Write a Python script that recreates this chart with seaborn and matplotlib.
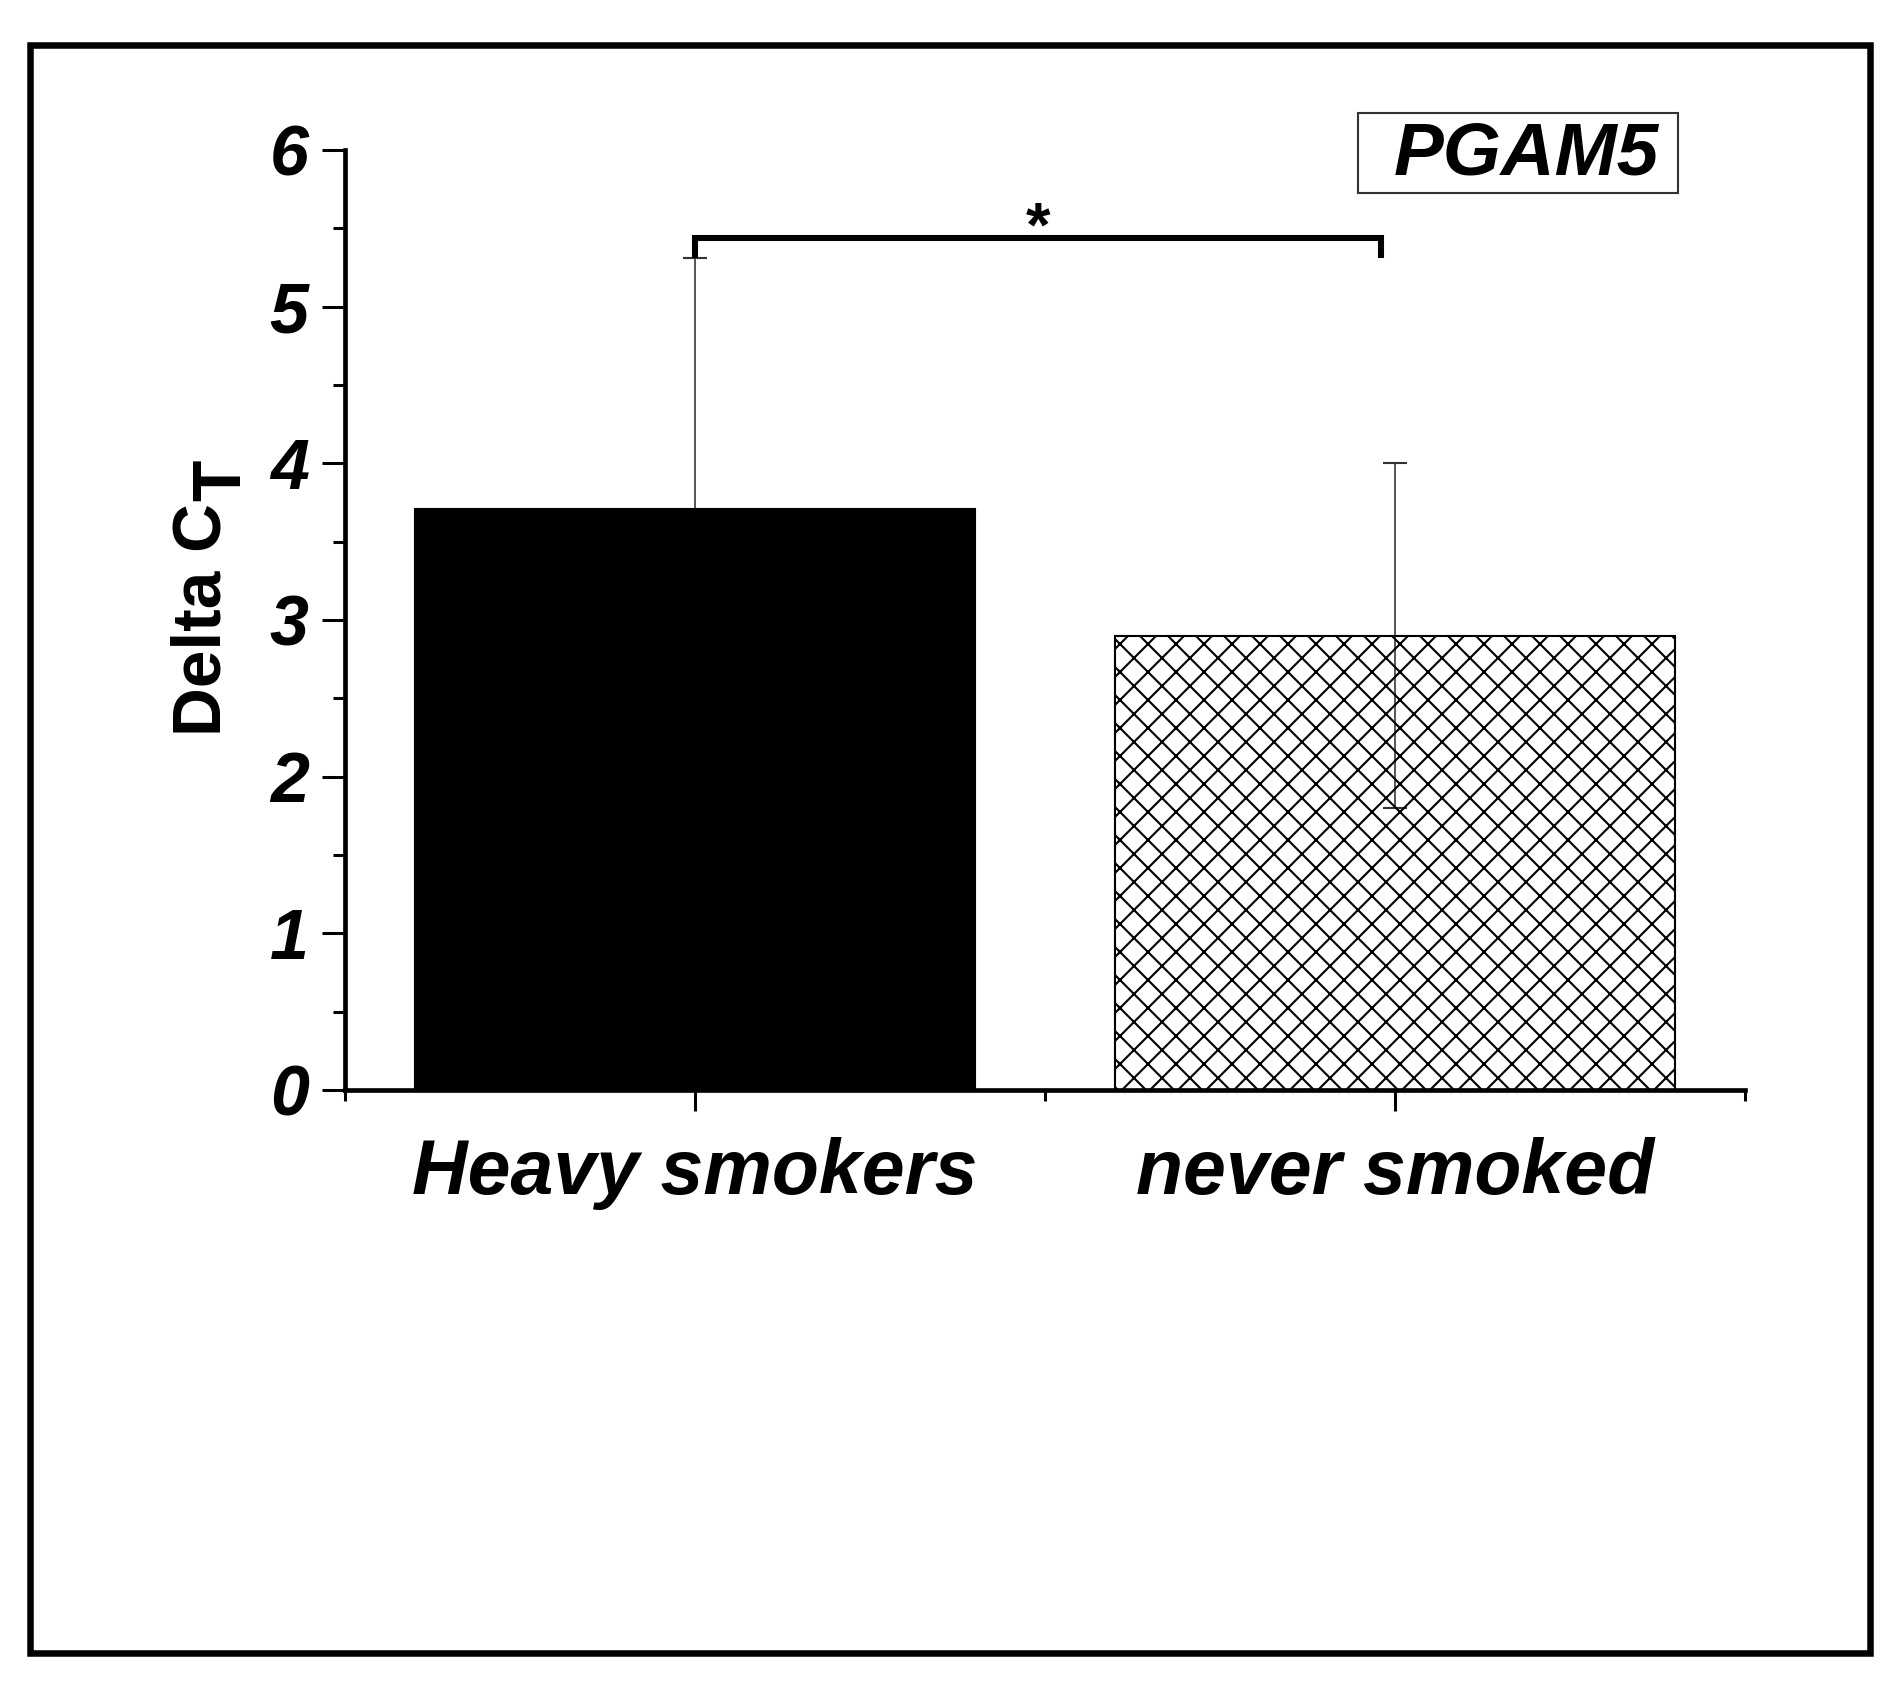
import numpy as np
import pandas as pd
import seaborn as sns
import matplotlib
matplotlib.use('Agg')
from matplotlib import pyplot as plt
from matplotlib.patches import Rectangle
from matplotlib.ticker import MultipleLocator, FixedLocator

# values
groups = ["Heavy smokers", "never smoked"]
delta_ct = [3.71, 2.90]
sem = [1.60, 1.10]
bar_colors = ["black", "white"]

df = pd.DataFrame({"group": groups, "delta_ct": delta_ct})

sns.set_theme(style="white")
plt.rcParams['font.family'] = ['Liberation Sans', 'DejaVu Sans']
plt.rcParams['hatch.linewidth'] = 0.9

DPI = 168
fig = plt.figure(figsize=(1887 / DPI, 1687 / DPI), dpi=DPI)
ax = fig.add_axes([0.1828, 0.3539, 0.7419, 0.5572])

sns.barplot(data=df, x="group", y="delta_ct", hue="group", palette=bar_colors,
            edgecolor="black", linewidth=0.9, width=0.8, legend=False, ax=ax, zorder=2)
# second bar: fine crosshatch
ax.patches[1].set_hatch('xx')
ax.patches[1].set_facecolor('none')

# error bars (lower half of the black bar is hidden behind it)
ax.errorbar(x=[0, 1], y=delta_ct, yerr=sem, fmt='none', ecolor='#333333',
            elinewidth=0.7, capsize=5, capthick=0.9, zorder=1)

# axes styling
sns.despine(ax=ax)
for side in ['left', 'bottom']:
    ax.spines[side].set_linewidth(2)
    ax.spines[side].set_color('black')

ax.set_ylim(0, 6)
ax.set_xlim(-0.5, 1.5)
ax.yaxis.set_major_locator(MultipleLocator(1))
ax.yaxis.set_minor_locator(MultipleLocator(0.5))
ax.xaxis.set_minor_locator(FixedLocator([-0.5, 0.5, 1.5]))

ax.tick_params(axis='y', which='major', direction='out', length=10, width=1.3,
               pad=5.6, labelsize=30, left=True, color='black', labelcolor='black')
ax.tick_params(axis='y', which='minor', direction='out', length=5, width=1.3,
               left=True, color='black')
ax.tick_params(axis='x', which='major', direction='out', length=9, width=1.3,
               pad=11, labelsize=33, bottom=True, color='black', labelcolor='black')
ax.tick_params(axis='x', which='minor', direction='out', length=4.5, width=1.3,
               bottom=True, color='black')

for lbl in ax.get_xticklabels() + ax.get_yticklabels():
    lbl.set_fontweight('bold')
    lbl.set_fontstyle('italic')

ax.set_xlabel('')
ax.set_ylabel('Delta C', fontsize=29, fontweight='bold', labelpad=15, color='black')
ax.annotate('T', xy=(1, 1), xycoords=ax.yaxis.label, xytext=(8.6, 1),
            textcoords='offset points', rotation=90, ha='right', va='bottom',
            fontsize=29, fontweight='bold', color='black')

# significance bracket
ax.plot([0, 0, 0.98, 0.98], [5.31, 5.44, 5.44, 5.31], color='black', lw=2.6,
        solid_joinstyle='miter', solid_capstyle='butt', clip_on=False, zorder=3)
ax.text(0.49, 5.39, '*', ha='center', va='baseline', fontsize=27,
        fontweight='bold', color='black')

# gene name box
fig.add_artist(Rectangle((0.7197, 0.8856), 0.1696, 0.0474, transform=fig.transFigure,
                         fill=False, lw=0.9, edgecolor='#333333'))
fig.text(0.8087, 0.8963, 'PGAM5', ha='center', va='baseline', fontsize=32,
         fontweight='bold', fontstyle='italic', color='black')

# outer frame
fig.add_artist(Rectangle((0.01616, 0.01986), 0.9748, 0.9535, transform=fig.transFigure,
                         fill=False, lw=2.8, edgecolor='black'))

fig.savefig('out.png', dpi=DPI)
